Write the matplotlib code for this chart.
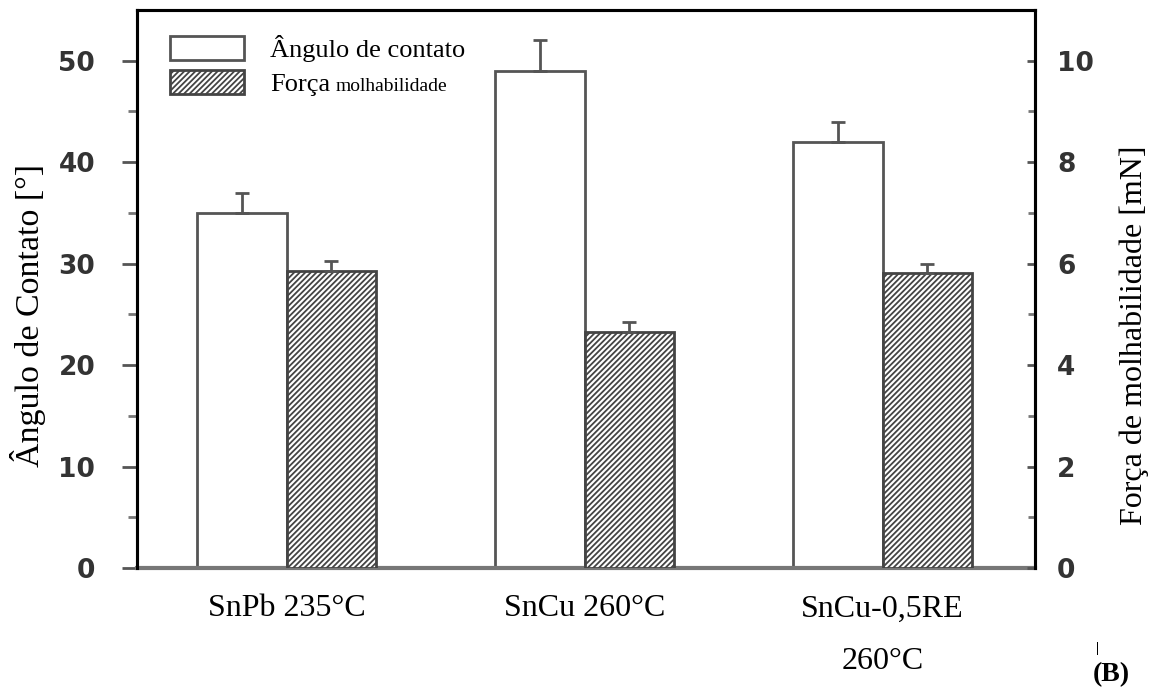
import numpy as np
import matplotlib
matplotlib.use('Agg')
import matplotlib.pyplot as plt
from matplotlib.ticker import MultipleLocator, FixedLocator

# data
categories = ['SnPb 235°C', 'SnCu 260°C', 'SnCu-0,5RE\n260°C']
angle = [35, 49, 42]          # Ângulo de contato [°]
angle_err = [2, 3, 2]
force = [5.85, 4.65, 5.82]    # Força de molhabilidade [mN]
force_err = [0.2, 0.2, 0.18]

plt.rcParams['hatch.linewidth'] = 1.3
plt.rcParams['hatch.color'] = '#3a3a3a'

fig = plt.figure(figsize=(11.6, 6.88), dpi=100)
ax = fig.add_axes([0.118, 0.1744, 0.774, 0.811])
ax2 = ax.twinx()

x = np.arange(len(categories))
w = 0.30

ax.bar(x - w/2, angle, width=w, color='white', edgecolor='#555555', linewidth=2,
       label='Ângulo de contato', zorder=2)
ax.errorbar(x - w/2, angle, yerr=[np.zeros(3), angle_err], fmt='none', ecolor='#555555',
            elinewidth=2, capsize=5, capthick=2, zorder=3)

ax2.bar(x + w/2, force, width=w, color='white', edgecolor='#444444', linewidth=2,
        hatch='//////', label='Força', zorder=2)
ax2.errorbar(x + w/2, force, yerr=[np.zeros(3), force_err], fmt='none', ecolor='#555555',
             elinewidth=2, capsize=5, capthick=2, zorder=3)

ax.set_xlim(-0.503, 2.51)
ax.set_ylim(0, 55)
ax2.set_ylim(0, 11)

# spines
for a in (ax, ax2):
    a.spines['top'].set_linewidth(2.2)
    a.spines['left'].set_linewidth(2.2)
    a.spines['right'].set_linewidth(2.2)
    a.spines['bottom'].set_visible(False)
ax.spines['bottom'].set_visible(True)
ax.spines['bottom'].set_color('#777777')
ax.spines['bottom'].set_linewidth(3)

ax.yaxis.set_major_locator(MultipleLocator(10))
ax.yaxis.set_minor_locator(FixedLocator([5, 15, 25, 35, 45]))
ax2.yaxis.set_major_locator(MultipleLocator(2))
ax2.yaxis.set_minor_locator(FixedLocator([1, 3, 5, 7, 9]))

tick_font = dict(family='DejaVu Sans', weight='bold', size=19)
ax.tick_params(axis='y', which='major', direction='out', length=11, width=2,
               color='#555555', pad=19, labelcolor='#333333')
ax.tick_params(axis='y', which='minor', direction='out', length=6.5, width=2, color='#777777')
ax2.tick_params(axis='y', which='major', direction='in', length=6, width=2,
                color='#555555', pad=16, labelcolor='#333333')
ax2.tick_params(axis='y', which='minor', direction='in', length=5, width=2, color='#777777')
for lab in ax.get_yticklabels() + ax2.get_yticklabels():
    lab.set_fontproperties(tick_font)
    lab.set_fontsize(19)

ax.set_xticks(x)
ax.set_xticklabels(categories, family='Liberation Serif', fontsize=23)
ax.tick_params(axis='x', length=0, pad=19)
ax.get_xticklabels()[2].set_linespacing(2.05)

ax.set_ylabel('Ângulo de Contato [°]', family='Liberation Serif', fontsize=24.5)
ax.yaxis.set_label_coords(-0.101, 0.452)
ax2.set_ylabel('Força de molhabilidade [mN]', family='Liberation Serif', fontsize=23,
               rotation=90)
ax2.yaxis.set_label_coords(1.094, 0.4175)

h1, l1 = ax.get_legend_handles_labels()
h2, l2 = ax2.get_legend_handles_labels()
leg = ax2.legend(h1 + h2, l1 + l2, loc='upper left', bbox_to_anchor=(0.037, 0.955),
                 frameon=False, prop={'family': 'Liberation Serif', 'size': 19},
                 handlelength=2.8, handleheight=1.0, handletextpad=1.0,
                 labelspacing=0.3, borderpad=0, borderaxespad=0)
# smaller second word after "Força", drawn after the legend so its position is known
ax2.annotate('molhabilidade', xy=(1, 0), xycoords=leg.get_texts()[1],
             xytext=(4, 1), textcoords='offset points', va='bottom', ha='left',
             family='Liberation Serif', fontsize=14, zorder=10)

fig.text(0.958, 0.020, '(B)', family='Liberation Serif', weight='bold', fontsize=20,
         ha='center', va='center')
fig.text(0.946, 0.058, '|', family='Liberation Serif', weight='bold', fontsize=10,
         ha='center', va='center')

fig.savefig('out.png', dpi=100)
